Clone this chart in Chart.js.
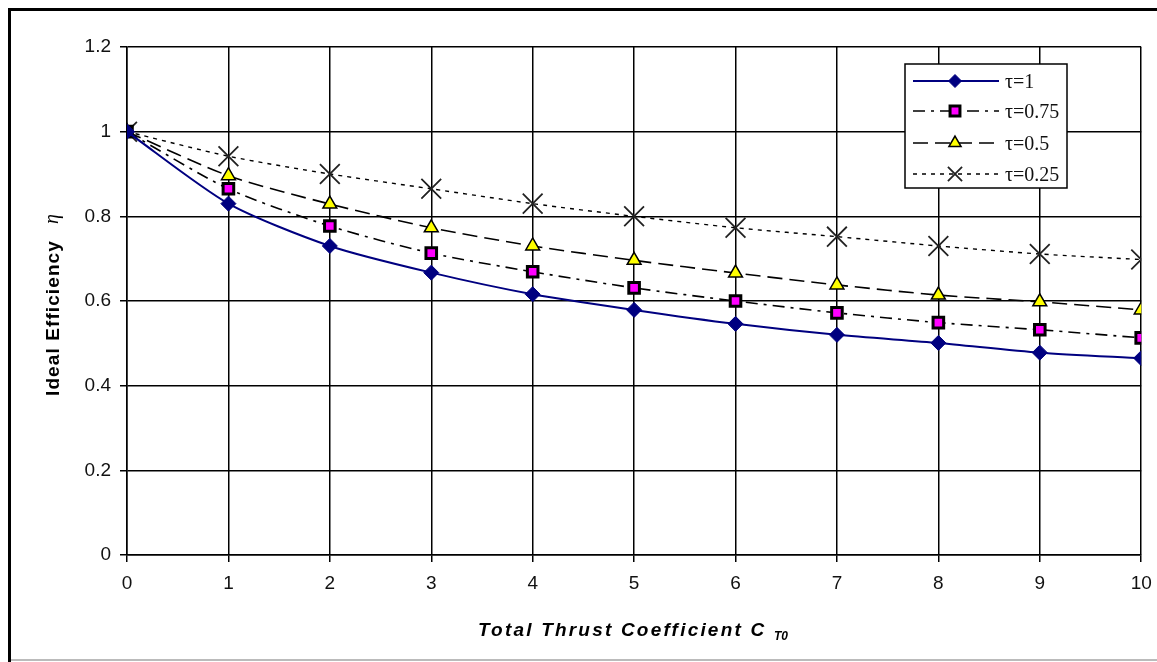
<!DOCTYPE html>
<html>
<head>
<meta charset="utf-8">
<script src="https://cdn.jsdelivr.net/npm/chart.js@4.4.1/dist/chart.umd.min.js"></script>
<style>
  html, body { margin: 0; padding: 0; background: #fff; }
  #wrap { width: 1157px; height: 662px; }
</style>
</head>
<body>
<div id="wrap"><canvas id="myChart" width="1157" height="662"></canvas></div>
<script>
// thrust coefficient on the x axis
const thrust = [0, 1, 2, 3, 4, 5, 6, 7, 8, 9, 10];

// ideal efficiency for each tau
const tau1   = [1, 0.83, 0.73, 0.667, 0.616, 0.579, 0.546, 0.52, 0.501, 0.478, 0.465];
const tau075 = [1, 0.865, 0.777, 0.713, 0.669, 0.631, 0.6, 0.572, 0.549, 0.532, 0.513];
const tau05  = [1, 0.896, 0.829, 0.773, 0.73, 0.696, 0.666, 0.638, 0.614, 0.598, 0.579];
const tau025 = [1, 0.942, 0.9, 0.865, 0.83, 0.8, 0.773, 0.752, 0.73, 0.711, 0.698];

const seriesLabels = ['τ=1', 'τ=0.75', 'τ=0.5', 'τ=0.25'];

function pts(ys) {
  return thrust.map((x, i) => ({x: x, y: ys[i]}));
}

const datas = {
  datasets: [
    {
      label: seriesLabels[0],
      data: pts(tau1),
      borderColor: '#000080',
      backgroundColor: '#000080',
      borderWidth: 2,
      pointStyle: 'rectRot',
      pointRadius: 7.5,
      pointBorderWidth: 1,
      pointBorderColor: '#000080',
      tension: 0.25
    },
    {
      label: seriesLabels[1],
      data: pts(tau075),
      borderColor: '#000',
      backgroundColor: '#ff00ff',
      borderWidth: 1.6,
      borderDash: [12, 6, 3, 6],
      pointStyle: 'rect',
      pointRadius: 7.5,
      pointBorderWidth: 3,
      pointBorderColor: '#000',
      tension: 0.25
    },
    {
      label: seriesLabels[2],
      data: pts(tau05),
      borderColor: '#000',
      backgroundColor: '#ffff00',
      borderWidth: 1.6,
      borderDash: [15, 7],
      pointStyle: 'triangle',
      pointRadius: 8,
      pointBorderWidth: 1.5,
      pointBorderColor: '#000',
      tension: 0.25
    },
    {
      label: seriesLabels[3],
      data: pts(tau025),
      borderColor: '#000',
      backgroundColor: '#000',
      borderWidth: 1.4,
      borderDash: [4, 5],
      pointStyle: 'crossRot',
      pointRadius: 14,
      pointBorderWidth: 1.8,
      pointBorderColor: '#222',
      tension: 0.25
    }
  ]
};

// outer frame lines
const frame = {
  id: 'frame',
  beforeDraw(chart) {
    const { ctx } = chart;
    ctx.save();
    ctx.fillStyle = '#fff';
    ctx.fillRect(0, 0, chart.width, chart.height);
    ctx.fillStyle = '#000';
    ctx.fillRect(8, 8, 1149, 3);
    ctx.fillRect(8, 8, 3, 654);
    ctx.fillStyle = '#bbb';
    ctx.fillRect(11, 659, 1146, 2);
    ctx.restore();
  }
};

// axis titles (with subscript / greek symbol)
const axisTitles = {
  id: 'axisTitles',
  afterDraw(chart) {
    const { ctx } = chart;
    ctx.save();
    ctx.fillStyle = '#000';
    ctx.textBaseline = 'alphabetic';
    ctx.textAlign = 'left';
    ctx.font = 'italic bold 19px "Liberation Sans", Arial, sans-serif';
    ctx.letterSpacing = '2.2px';
    ctx.fillText('Total Thrust Coefficient C', 478, 636);
    ctx.font = 'italic bold 12px "Liberation Sans", Arial, sans-serif';
    ctx.letterSpacing = '0px';
    ctx.fillText('T0', 774, 640);

    ctx.translate(59, 396);
    ctx.rotate(-Math.PI / 2);
    ctx.font = 'bold 19px "Liberation Sans", Arial, sans-serif';
    ctx.letterSpacing = '1.1px';
    ctx.fillText('Ideal Efficiency', 0, 0);
    ctx.letterSpacing = '0px';
    ctx.font = 'italic 20px "Liberation Serif", "Times New Roman", serif';
    ctx.fillText('η', 172, -1);
    ctx.restore();
  }
};

// boxed legend inside the plot, line sample + marker
const boxLegend = {
  id: 'boxLegend',
  afterDraw(chart) {
    const { ctx } = chart;
    const bx = 905, by = 64, bw = 162, bh = 124;
    ctx.save();
    ctx.fillStyle = '#fff';
    ctx.fillRect(bx, by, bw, bh);
    ctx.strokeStyle = '#000';
    ctx.lineWidth = 1.5;
    ctx.strokeRect(bx, by, bw, bh);
    const rows = [81, 111, 143, 174];
    chart.data.datasets.forEach((ds, i) => {
      const y = rows[i];
      ctx.save();
      ctx.strokeStyle = ds.borderColor;
      ctx.lineWidth = ds.borderWidth;
      ctx.setLineDash(ds.borderDash || []);
      ctx.beginPath();
      ctx.moveTo(913, y);
      ctx.lineTo(999, y);
      ctx.stroke();
      ctx.setLineDash([]);
      ctx.fillStyle = ds.backgroundColor;
      ctx.strokeStyle = ds.pointBorderColor;
      ctx.lineWidth = ds.pointBorderWidth;
      const r = ds.pointStyle === 'crossRot' ? 10 : (ds.pointStyle === 'rectRot' ? 6.5 : 7);
      Chart.helpers.drawPoint(ctx, {
        pointStyle: ds.pointStyle, radius: r, rotation: 0, borderWidth: ds.pointBorderWidth
      }, 955, y);
      ctx.restore();
      ctx.fillStyle = '#111';
      ctx.font = '20px "Liberation Serif", "Times New Roman", serif';
      ctx.textBaseline = 'middle';
      ctx.fillText(ds.label, 1005, y + 2);
    });
    ctx.restore();
  }
};

const tickFont = { family: '"Liberation Sans", Arial, sans-serif', size: 19 };

const config = {
  type: 'line',
  data: datas,
  options: {
    responsive: false,
    animation: false,
    layout: { padding: { left: 12, top: 47, right: 8, bottom: 0 } },
    plugins: {
      legend: { display: false },
      tooltip: { enabled: false }
    },
    scales: {
      x: {
        type: 'linear',
        min: 0,
        max: 10,
        afterFit(scale) {
          scale.height = 107;
          scale.paddingLeft = 0;
          scale.paddingRight = 0;
        },
        ticks: { stepSize: 1, color: '#111', font: tickFont, padding: 10 },
        grid: { color: '#000', lineWidth: 1.5, tickLength: 7 },
        border: { color: '#000', width: 1.5 }
      },
      y: {
        min: 0,
        max: 1.2,
        afterFit(scale) { scale.width = 115; },
        ticks: {
          stepSize: 0.2,
          color: '#111',
          font: tickFont,
          padding: 9,
          callback: (v) => String(Math.round(v * 10) / 10)
        },
        grid: { color: '#000', lineWidth: 1.5, tickLength: 7 },
        border: { color: '#000', width: 1.5 }
      }
    }
  },
  plugins: [frame, axisTitles, boxLegend]
};

const myChart = new Chart(document.getElementById('myChart'), config);
</script>
</body>
</html>
